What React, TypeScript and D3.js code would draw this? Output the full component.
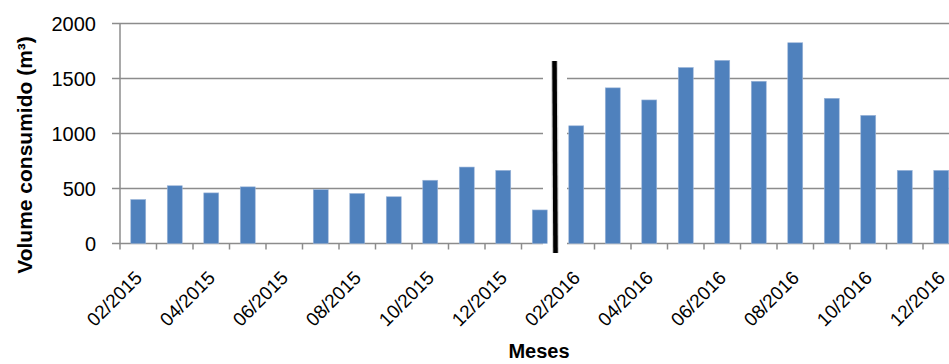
import React from "react";
import * as d3 from "d3";

const months = [
  "02/2015", "03/2015", "04/2015", "05/2015", "06/2015", "07/2015", "08/2015",
  "09/2015", "10/2015", "11/2015", "12/2015", "01/2016", "02/2016", "03/2016",
  "04/2016", "05/2016", "06/2016", "07/2016", "08/2016", "09/2016", "10/2016",
  "11/2016", "12/2016",
];
const volumes = [
  400, 525, 460, 515, 0, 490, 455, 425, 575, 695, 665, 305, 1070, 1415,
  1305, 1600, 1665, 1475, 1825, 1320, 1165, 665, 665,
];
const yTicks = [0, 500, 1000, 1500, 2000];
const labelledMonths = months.filter((_, i) => i % 2 === 0);
const dividerMonth = "02/2016";
const yTitle = "Volume consumido (m³)";
const xTitle = "Meses";

const W = 949;
const H = 364;
const left = 120;
const band = 36.5;
const top = 23.5;
const bottom = 243.5;

export default function App() {
  const x = d3
    .scaleBand<string>()
    .domain(months)
    .range([left, left + band * months.length])
    .paddingInner(0.59)
    .paddingOuter(0.295);
  const xb = d3.scaleBand<string>().domain(months).range([left, left + band * months.length]);
  const y = d3.scaleLinear().domain([0, 2000]).range([bottom, top]);
  const font = "'Liberation Sans', Arial, sans-serif";
  const divX = (xb(dividerMonth) as number) - 3;

  return (
    <svg
      width={W}
      height={H}
      style={{ position: "absolute", left: 0, top: 0, background: "#fff" }}
      fontFamily={font}
    >
      <rect x={0} y={0} width={W} height={H} fill="#fff" />
      {/* gridlines */}
      {yTicks.map((t) => (
        <g key={t}>
          <line x1={left - 8} x2={W} y1={y(t)} y2={y(t)} stroke="#8c8c8c" strokeWidth={1.5} />
          <text x={96} y={y(t)} dy="0.36em" textAnchor="end" fontSize={20} fill="#000">
            {t}
          </text>
        </g>
      ))}
      {/* y axis */}
      <line x1={left} x2={left} y1={top} y2={bottom} stroke="#8c8c8c" strokeWidth={1.5} />
      {/* x ticks at category boundaries */}
      {months.map((m) => (
        <line
          key={m}
          x1={xb(m) as number}
          x2={xb(m) as number}
          y1={bottom}
          y2={bottom + 6}
          stroke="#8c8c8c"
          strokeWidth={1.5}
        />
      ))}
      {/* white box behind divider */}
      <rect x={divX - 12} y={58} width={24} height={198} fill="#fff" />
      {/* bars */}
      {months.map((m, i) =>
        volumes[i] > 0 ? (
          <rect
            key={m}
            x={x(m) as number}
            y={y(volumes[i])}
            width={x.bandwidth()}
            height={bottom - y(volumes[i])}
            fill="#4f81bd"
            stroke="#9db6d9"
            strokeWidth={0.6}
          />
        ) : null
      )}
      {/* divider line */}
      <line x1={divX - 0.5} x2={divX + 0.5} y1={61} y2={253} stroke="#d6d6d6" strokeWidth={7} />
      <line x1={divX - 0.5} x2={divX + 0.5} y1={61} y2={253} stroke="#000" strokeWidth={4.5} />
      {/* x tick labels */}
      {labelledMonths.map((m) => {
        const cx = (xb(m) as number) + band / 2 + 5;
        const cy = 279;
        return (
          <text
            key={m}
            x={cx}
            y={cy}
            textAnchor="end"
            fontSize={19}
            fill="#000"
            transform={`rotate(-45, ${cx}, ${cy})`}
          >
            {m}
          </text>
        );
      })}
      {/* titles */}
      <text
        x={0}
        y={0}
        transform={`translate(32, 155) rotate(-90)`}
        textAnchor="middle"
        fontSize={21}
        fontWeight="bold"
        fill="#000"
      >
        {yTitle}
      </text>
      <text x={539} y={358} textAnchor="middle" fontSize={20} fontWeight="bold" fill="#000">
        {xTitle}
      </text>
    </svg>
  );
}
